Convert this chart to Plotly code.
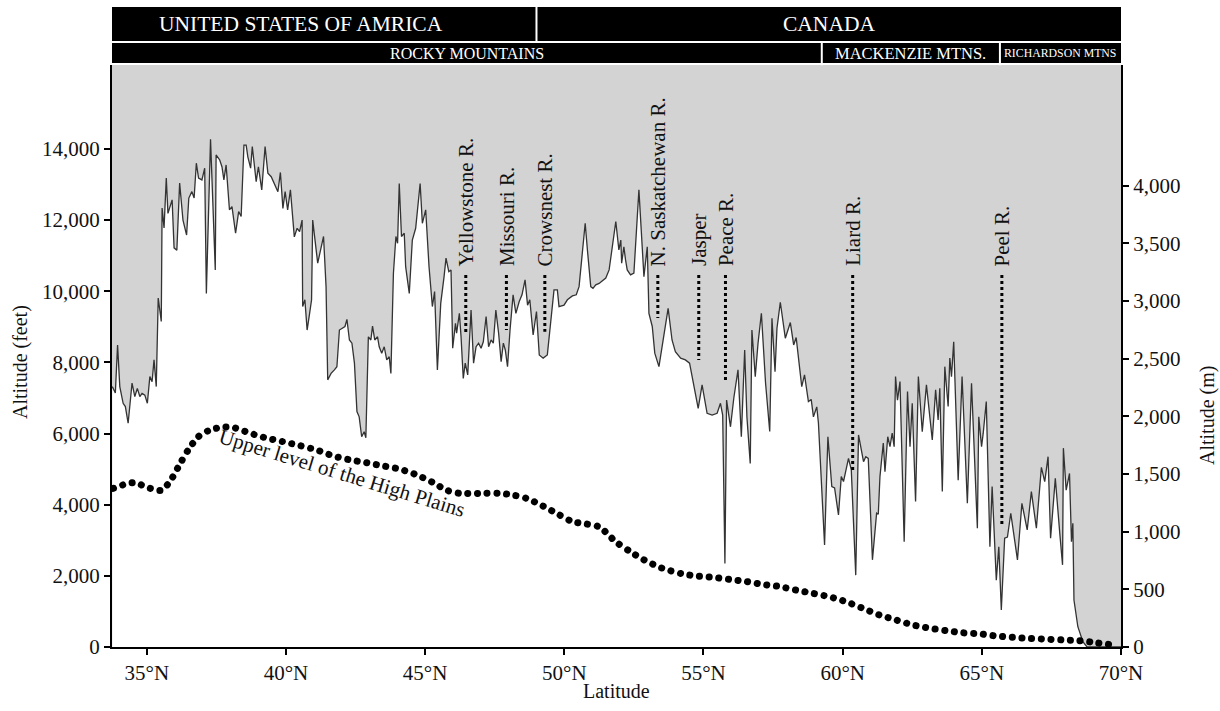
import plotly.graph_objects as go

# ---- Data -----------------------------------------------------------------
# Mountain crest profile along the cordillera (latitude °N, altitude in feet)
profile_lat = [
    33.76, 33.87, 33.95, 34.03, 34.15, 34.23, 34.33, 34.47, 34.57, 34.66, 34.75, 34.83, 34.93,
    35.02, 35.11, 35.19, 35.26, 35.34, 35.41, 35.52, 35.55, 35.62, 35.70, 35.76, 35.91, 35.98,
    36.08, 36.18, 36.30, 36.43, 36.51, 36.62, 36.70, 36.78, 36.86, 36.98, 37.08, 37.14, 37.29,
    37.38, 37.46, 37.49, 37.62, 37.70, 37.77, 37.85, 37.97, 38.06, 38.19, 38.30, 38.39, 38.49,
    38.57, 38.63, 38.73, 38.79, 38.87, 38.93, 39.01, 39.13, 39.25, 39.35, 39.47, 39.59, 39.71,
    39.80, 39.89, 39.97, 40.06, 40.16, 40.24, 40.30, 40.40, 40.49, 40.58, 40.60, 40.68, 40.76,
    40.84, 40.92, 40.96, 41.14, 41.35, 41.44, 41.50, 41.62, 41.74, 41.83, 41.92, 42.04, 42.12,
    42.19, 42.28, 42.37, 42.46, 42.55, 42.63, 42.72, 42.81, 42.87, 42.96, 43.05, 43.11, 43.19,
    43.29, 43.35, 43.44, 43.53, 43.62, 43.71, 43.77, 43.86, 43.95, 44.01, 44.07, 44.15, 44.25,
    44.30, 44.43, 44.54, 44.66, 44.82, 44.90, 45.02, 45.14, 45.26, 45.34, 45.44, 45.56, 45.68,
    45.75, 45.85, 45.93, 45.99, 46.09, 46.13, 46.23, 46.29, 46.37, 46.44, 46.53, 46.65, 46.74,
    46.83, 46.92, 47.01, 47.09, 47.19, 47.28, 47.37, 47.45, 47.54, 47.64, 47.73, 47.81, 47.88,
    47.96, 48.05, 48.16, 48.26, 48.38, 48.48, 48.59, 48.68, 48.76, 48.88, 49.00, 49.10, 49.24,
    49.39, 49.55, 49.63, 49.75, 49.81, 49.99, 50.11, 50.29, 50.43, 50.53, 50.75, 50.83, 50.95,
    51.03, 51.13, 51.25, 51.49, 51.61, 51.85, 51.96, 52.03, 52.06, 52.14, 52.20, 52.26, 52.38,
    52.50, 52.68, 52.80, 52.86, 52.98, 53.04, 53.16, 53.25, 53.40, 53.54, 53.73, 53.87, 53.99,
    54.18, 54.35, 54.50, 54.65, 54.81, 54.95, 55.13, 55.31, 55.49, 55.61, 55.69, 55.77, 55.83,
    55.97, 56.09, 56.24, 56.36, 56.48, 56.56, 56.68, 56.74, 56.86, 56.96, 57.08, 57.23, 57.38,
    57.46, 57.57, 57.64, 57.76, 57.94, 58.12, 58.24, 58.33, 58.53, 58.63, 58.77, 58.87, 58.95,
    59.07, 59.13, 59.35, 59.47, 59.61, 59.71, 59.85, 59.95, 60.03, 60.21, 60.31, 60.47, 60.57,
    60.75, 60.83, 60.92, 61.07, 61.22, 61.28, 61.34, 61.46, 61.52, 61.62, 61.70, 61.78, 61.85,
    61.90, 61.97, 62.06, 62.21, 62.33, 62.42, 62.50, 62.62, 62.72, 62.86, 63.01, 63.22, 63.34,
    63.43, 63.49, 63.58, 63.67, 63.79, 63.85, 63.91, 63.99, 64.15, 64.29, 64.48, 64.63, 64.84,
    64.89, 64.99, 65.05, 65.16, 65.29, 65.37, 65.52, 65.61, 65.70, 65.82, 65.92, 66.04, 66.28,
    66.44, 66.63, 66.78, 66.96, 67.14, 67.26, 67.38, 67.47, 67.64, 67.80, 67.90, 67.93, 68.03,
    68.15, 68.22, 68.27, 68.31, 68.45, 68.57, 68.63, 68.78, 70.00,
]
profile_ft = [
    7320, 7140, 8490, 7320, 6850, 6760, 6290, 7420, 7040, 7270, 7040, 7130, 7080,
    6850, 7600, 7460, 8070, 7320, 9810, 9150, 12340, 11780, 13180, 12190, 12570, 11220,
    11150, 13040, 12000, 11580, 12620, 12800, 12620, 13600, 13180, 13130, 13460, 9940, 14270,
    12150, 10600, 13830, 13690, 13500, 13130, 13550, 12290, 12380, 11630, 12240, 12100, 14110,
    14110, 13780, 13460, 14070, 13410, 13080, 13500, 12850, 14070, 13320, 13220, 12990, 12800,
    13340, 12330, 12800, 12290, 12850, 12050, 11530, 11770, 11680, 12000, 9570, 9760, 8910,
    9330, 9760, 12000, 10790, 11540, 10130, 7510, 7690, 7790, 7880, 8910, 8960, 9010,
    9210, 8630, 8540, 7980, 6620, 6470, 5910, 6050, 5880, 8720, 8630, 9020, 8630,
    8720, 8440, 8260, 8440, 8070, 8160, 7690, 10500, 11540, 11350, 13030, 11540, 11630,
    10690, 9940, 11440, 11770, 13030, 11910, 12290, 10690, 9570, 9990, 7790, 9660, 10410,
    10930, 10550, 10600, 8400, 9100, 8820, 9380, 8720, 7550, 7980, 7650, 9470, 7980,
    8440, 8540, 8400, 8580, 9290, 8440, 8630, 8540, 9470, 8820, 8020, 8540, 8350,
    7880, 8910, 9900, 9380, 9710, 9900, 10320, 9610, 9760, 8770, 9430, 8210, 8120,
    8210, 9470, 10040, 10040, 9570, 9610, 9760, 9870, 9900, 10130, 11910, 11160, 10130,
    10080, 10180, 10220, 10370, 10600, 11960, 11160, 11440, 10790, 11250, 10880, 10600, 10460,
    10510, 12850, 11160, 10410, 11250, 9380, 9010, 8260, 7880, 8540, 9520, 8630, 8300,
    8120, 8070, 7980, 7320, 6710, 7370, 6570, 6520, 6570, 6850, 6520, 2350, 6940,
    6190, 7000, 7790, 5910, 8350, 6470, 5160, 8910, 7600, 8540, 9380, 7420, 6060,
    9240, 7740, 8960, 9690, 8680, 9120, 8490, 8700, 7320, 7650, 6900, 6960, 6470,
    6750, 6290, 2870, 5910, 4510, 4470, 3710, 4790, 4650, 5300, 4980, 2020, 5960,
    5210, 5350, 5300, 2450, 3760, 3730, 4790, 5730, 4930, 5910, 5630, 6010, 5630,
    7600, 6940, 7460, 2960, 7180, 5630, 6850, 4090, 7600, 6050, 7370, 5820, 7230,
    6380, 7270, 4370, 7880, 6760, 8120, 7600, 8580, 4690, 7600, 4040, 7410, 3340,
    6470, 5630, 6010, 6900, 2820, 4510, 1880, 2820, 1040, 3060, 3090, 3760, 2450,
    4040, 3290, 4370, 3340, 5050, 4650, 5350, 3060, 4740, 3200, 2310, 5590, 4410,
    4880, 2960, 3480, 1320, 570, 290, 150, 0, 0,
]

# Upper level of the High Plains (latitude °N, altitude in feet)
plains_lat = [
    33.80, 34.52, 35.12, 35.54, 35.90, 36.20, 36.49, 36.85, 37.27, 37.75, 38.11, 38.71, 39.31,
    39.90, 40.50, 41.10, 41.70, 42.30, 42.90, 43.49, 44.09, 44.69, 45.29, 45.77, 46.25, 47.08,
    47.68, 48.16, 48.64, 49.24, 49.83, 50.31, 50.79, 51.27, 51.83, 52.35, 52.86, 53.50, 54.27,
    54.74, 55.34, 55.94, 56.54, 57.13, 57.73, 58.33, 58.93, 59.53, 60.13, 60.72, 61.32, 61.92,
    62.52, 63.12, 63.71, 64.31, 64.91, 65.51, 66.11, 66.71, 67.30, 67.90, 68.50, 69.10, 69.69,
]
plains_ft = [
    4460, 4620, 4460, 4410, 4740, 5160, 5540, 5910, 6100, 6180, 6170, 6010, 5870,
    5770, 5660, 5540, 5370, 5260, 5180, 5090, 5000, 4840, 4620, 4410, 4320, 4320,
    4320, 4270, 4180, 3960, 3710, 3520, 3460, 3370, 2970, 2690, 2450, 2220, 2050,
    2000, 1960, 1900, 1840, 1760, 1700, 1600, 1510, 1410, 1270, 1090, 900, 760,
    620, 530, 460, 400, 370, 310, 270, 240, 220, 200, 180, 120, 60,
]

# River valleys crossed by the profile: name, latitude, valley-floor altitude (ft)
river_names = ["Yellowstone R.", "Missouri R.", "Crowsnest R.", "N. Saskatchewan R.",
               "Jasper", "Peace R.", "Liard R.", "Peel R."]
river_lat = [46.46, 47.92, 49.30, 53.36, 54.83, 55.79, 60.36, 65.72]
river_ft = [8830, 8910, 8860, 9250, 8070, 7420, 4920, 3430]
river_marker_top_ft = 10460
river_label_base_ft = 10650

# Countries and ranges along the top
country_names = ["UNITED STATES OF AMRICA", "CANADA"]
country_bounds = [33.75, 49.0, 70.0]
country_label_lat = [40.55, None]
range_names = ["ROCKY MOUNTAINS", "MACKENZIE MTNS.", "RICHARDSON MTNS"]
range_bounds = [33.75, 59.25, 65.65, 70.0]
range_font_sizes = [16, 16.5, 11.8]

# Axis ticks
lat_ticks = [35, 40, 45, 50, 55, 60, 65, 70]
lat_tick_labels = [f"{v}°N" for v in lat_ticks]
ft_ticks = [0, 2000, 4000, 6000, 8000, 10000, 12000, 14000]
m_ticks = [0, 500, 1000, 1500, 2000, 2500, 3000, 3500, 4000]

# ---- Layout constants -----------------------------------------------------
FIG_W, FIG_H = 1220, 711
M_L, M_R, M_T, M_B = 112, 99, 65, 64
X_RANGE = [33.75, 70.0]
FT_RANGE = [0, 16360]
M_RANGE = [0, 5047]
FONT = "Liberation Serif"
GREY = "#d3d3d3"
INK = "#111111"
PLAINS_COLOR = "#010101"

plot_h = FIG_H - M_T - M_B


def paper_x(lat):
    return (lat - X_RANGE[0]) / (X_RANGE[1] - X_RANGE[0])


def paper_y_from_top(px):
    return (FIG_H - M_B - px) / plot_h


fig = go.Figure()

# Crest profile: white below the line, grey plot background above it
fig.add_trace(go.Scatter(
    x=profile_lat, y=profile_ft, mode="lines",
    line=dict(color="#333333", width=1.3),
    fill="tozeroy", fillcolor="white", hoverinfo="x+y", showlegend=False,
))

# Upper level of the High Plains (round dots applied after render)
fig.add_trace(go.Scatter(
    x=plains_lat, y=plains_ft, mode="lines",
    line=dict(color=PLAINS_COLOR, width=7, shape="spline", smoothing=0.8, dash="dot"),
    showlegend=False,
))

# River valley markers
rx, ry = [], []
for lat, ft in zip(river_lat, river_ft):
    rx += [lat, lat, None]
    ry += [river_marker_top_ft, ft, None]
fig.add_trace(go.Scatter(
    x=rx, y=ry, mode="lines", line=dict(color="black", width=3, dash="dot"),
    showlegend=False, hoverinfo="skip",
))

# Metric axis companion trace (invisible)
fig.add_trace(go.Scatter(
    x=profile_lat, y=[v * 0.3048 for v in profile_ft], yaxis="y2", mode="lines",
    line=dict(width=0, color="rgba(0,0,0,0)"), hoverinfo="skip", showlegend=False,
))

annotations = []
for name, lat in zip(river_names, river_lat):
    annotations.append(dict(
        x=lat, y=river_label_base_ft, xref="x", yref="y", text=name, showarrow=False,
        textangle=-90, xanchor="center", yanchor="bottom",
        font=dict(family=FONT, size=21, color=INK),
    ))

annotations.append(dict(
    x=42.0, y=4890, xref="x", yref="y", text="Upper level of the High Plains",
    showarrow=False, textangle=17, xanchor="center", yanchor="middle",
    font=dict(family=FONT, size=21, color=INK),
))

# Header bands
shapes = []
band1 = (paper_y_from_top(41), paper_y_from_top(7))
band2 = (paper_y_from_top(63), paper_y_from_top(43))
for (y0, y1) in (band1, band2):
    shapes.append(dict(type="rect", xref="paper", yref="paper", x0=0, x1=1, y0=y0, y1=y1,
                       fillcolor="black", line=dict(width=0), layer="above"))
for b in country_bounds[1:-1]:
    shapes.append(dict(type="line", xref="paper", yref="paper", x0=paper_x(b), x1=paper_x(b),
                       y0=band1[0], y1=band1[1], line=dict(color="white", width=2)))
for b in range_bounds[1:-1]:
    shapes.append(dict(type="line", xref="paper", yref="paper", x0=paper_x(b), x1=paper_x(b),
                       y0=band2[0] - 0.004, y1=band2[1], line=dict(color="white", width=2)))

band1_mid = (band1[0] + band1[1]) / 2
band2_mid = (band2[0] + band2[1]) / 2
for i, name in enumerate(country_names):
    lat = country_label_lat[i]
    if lat is None:
        lat = (country_bounds[i] + country_bounds[i + 1]) / 2
    annotations.append(dict(
        x=paper_x(lat), y=band1_mid, xref="paper", yref="paper", text=name, showarrow=False,
        xanchor="center", yanchor="middle", font=dict(family=FONT, size=21.5, color="white"),
    ))
for i, name in enumerate(range_names):
    lat = (range_bounds[i] + range_bounds[i + 1]) / 2
    annotations.append(dict(
        x=paper_x(lat), y=band2_mid, xref="paper", yref="paper", text=name, showarrow=False,
        xanchor="center", yanchor="middle",
        font=dict(family=FONT, size=range_font_sizes[i], color="white"),
    ))

# Axis titles
annotations += [
    dict(x=(20 - M_L) / (FIG_W - M_L - M_R), y=paper_y_from_top(362), xref="paper", yref="paper",
         text="Altitude (feet)", textangle=-90, showarrow=False, xanchor="center", yanchor="middle",
         font=dict(family=FONT, size=20, color=INK)),
    dict(x=(1207 - M_L) / (FIG_W - M_L - M_R), y=paper_y_from_top(416), xref="paper", yref="paper",
         text="Altitude (m)", textangle=-90, showarrow=False, xanchor="center", yanchor="middle",
         font=dict(family=FONT, size=20, color=INK)),
    dict(x=0.5, y=paper_y_from_top(691), xref="paper", yref="paper",
         text="Latitude", showarrow=False, xanchor="center", yanchor="middle",
         font=dict(family=FONT, size=20, color=INK)),
]

axis_common = dict(
    showline=True, linecolor="black", linewidth=2, ticks="outside", ticklen=6,
    tickwidth=1.5, tickcolor="black", showgrid=False, zeroline=False,
    tickfont=dict(family=FONT, size=21, color=INK),
)

fig.update_layout(
    width=FIG_W, height=FIG_H,
    margin=dict(l=M_L, r=M_R, t=M_T, b=M_B, pad=0),
    paper_bgcolor="white", plot_bgcolor=GREY,
    font=dict(family=FONT, size=20, color=INK),
    xaxis=dict(range=X_RANGE, tickvals=lat_ticks, ticktext=lat_tick_labels, **axis_common),
    yaxis=dict(range=FT_RANGE, tickvals=ft_ticks, tickformat=",d", **axis_common),
    yaxis2=dict(range=M_RANGE, tickvals=m_ticks, tickformat=",d", overlaying="y",
                side="right", anchor="x", **axis_common),
    shapes=shapes, annotations=annotations, showlegend=False,
)

# Round dots for the High Plains line
post = """
var gd = document.getElementById('{plot_id}');
gd.querySelectorAll('path.js-line').forEach(function(p) {
  if (p.style.stroke === 'rgb(1, 1, 1)') {
    p.style.strokeLinecap = 'round';
    p.style.strokeDasharray = '0.1px, 9.6px';
  }
});
"""

fig.write_html("out.html", post_script=post)
